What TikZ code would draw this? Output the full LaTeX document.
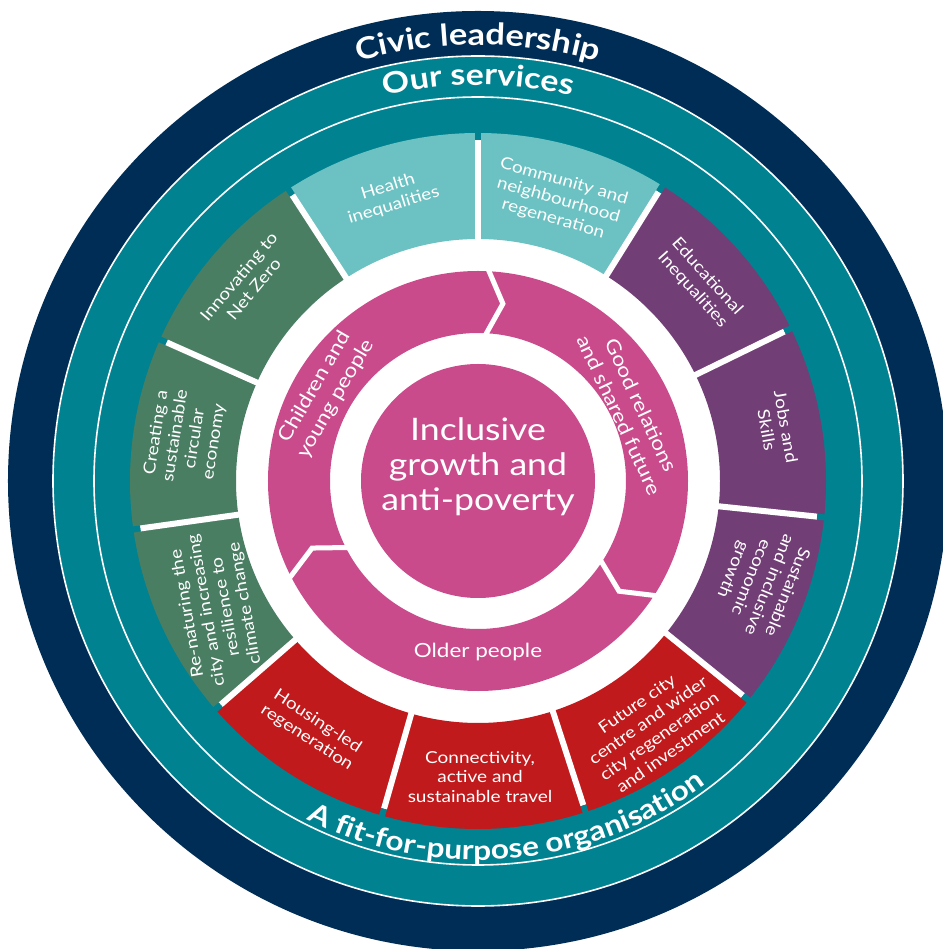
\documentclass[tikz,border=0pt]{standalone}
\usepackage{fontspec}
\setmainfont{Lato}[FakeStretch=1.15]
\usetikzlibrary{decorations.text}
\definecolor{navyc}{RGB}{0,45,86}
\definecolor{tealc}{RGB}{0,130,145}
\definecolor{lighttealc}{RGB}{108,194,194}
\definecolor{purplec}{RGB}{114,62,118}
\definecolor{redc}{RGB}{192,26,28}
\definecolor{greenc}{RGB}{74,126,99}
\definecolor{pinkc}{RGB}{202,75,140}

\begin{document}
\begin{tikzpicture}[x=1pt,y=1pt,
  seg/.style={text=white,align=center,inner sep=0.75pt,font=\fontsize{16.5}{19.5}\selectfont},
  ringlabel/.style={text=white,align=center,inner sep=0.75pt,font=\fontsize{19.5}{24}\selectfont},
  ringtext/.style={decorate,decoration={text along path,text align=center,text color=white}}]
%set diagram: centre of the wheel at (0,0)
\useasboundingbox (-478,-468) rectangle (464,481);
\fill[white] (-478,-468) rectangle (464,481);

%Shape: Circle [civic leadership]
\fill[navyc] (0,0) circle[radius=470];
%Shape: Circle [our services]
\fill[tealc] (0,0) circle[radius=425];
\draw[white,line width=1.6] (0,0) circle[radius=425];
\draw[white,line width=1.6] (0,0) circle[radius=384];
\fill[white] (0,0) circle[radius=341];

%Shape: Arc [health inequalities]
\fill[lighttealc] (90:242) arc[start angle=90,end angle=123,radius=242] -- (123:348) arc[start angle=123,end angle=90,radius=348] -- cycle;
%Shape: Arc [innovating to net zero]
\fill[greenc] (123:242) arc[start angle=123,end angle=156,radius=242] -- (156:348) arc[start angle=156,end angle=123,radius=348] -- cycle;
%Shape: Arc [circular economy]
\fill[greenc] (156:242) arc[start angle=156,end angle=188,radius=242] -- (188:348) arc[start angle=188,end angle=156,radius=348] -- cycle;
%Shape: Arc [re-naturing]
\fill[greenc] (188:242) arc[start angle=188,end angle=221,radius=242] -- (221:348) arc[start angle=221,end angle=188,radius=348] -- cycle;
%Shape: Arc [housing-led regeneration]
\fill[redc] (221:242) arc[start angle=221,end angle=254,radius=242] -- (254:348) arc[start angle=254,end angle=221,radius=348] -- cycle;
%Shape: Arc [connectivity]
\fill[redc] (254:242) arc[start angle=254,end angle=288,radius=242] -- (288:348) arc[start angle=288,end angle=254,radius=348] -- cycle;
%Shape: Arc [future city centre]
\fill[redc] (288:242) arc[start angle=288,end angle=321,radius=242] -- (321:348) arc[start angle=321,end angle=288,radius=348] -- cycle;
%Shape: Arc [sustainable growth]
\fill[purplec] (321:242) arc[start angle=321,end angle=354,radius=242] -- (354:348) arc[start angle=354,end angle=321,radius=348] -- cycle;
%Shape: Arc [jobs and skills]
\fill[purplec] (354:242) arc[start angle=354,end angle=386,radius=242] -- (386:348) arc[start angle=386,end angle=354,radius=348] -- cycle;
%Shape: Arc [educational inequalities]
\fill[purplec] (386:242) arc[start angle=386,end angle=418,radius=242] -- (418:348) arc[start angle=418,end angle=386,radius=348] -- cycle;
%Shape: Arc [community regeneration]
\fill[lighttealc] (418:242) arc[start angle=418,end angle=450,radius=242] -- (450:348) arc[start angle=450,end angle=418,radius=348] -- cycle;

%Straight Lines [gaps between the segments]
\draw[white,line width=6] (90:236) -- (90:341);   \draw[tealc,line width=6] (90:341) -- (90:349);
\draw[white,line width=6] (123:236) -- (123:341); \draw[tealc,line width=6] (123:341) -- (123:349);
\draw[white,line width=6] (156:236) -- (156:341); \draw[tealc,line width=6] (156:341) -- (156:349);
\draw[white,line width=6] (188:236) -- (188:341); \draw[tealc,line width=6] (188:341) -- (188:349);
\draw[white,line width=6] (221:236) -- (221:341); \draw[tealc,line width=6] (221:341) -- (221:349);
\draw[white,line width=6] (254:236) -- (254:341); \draw[tealc,line width=6] (254:341) -- (254:349);
\draw[white,line width=6] (288:236) -- (288:341); \draw[tealc,line width=6] (288:341) -- (288:349);
\draw[white,line width=6] (321:236) -- (321:341); \draw[tealc,line width=6] (321:341) -- (321:349);
\draw[white,line width=6] (354:236) -- (354:341); \draw[tealc,line width=6] (354:341) -- (354:349);
\draw[white,line width=6] (26:236) -- (26:341);   \draw[tealc,line width=6] (26:341) -- (26:349);
\draw[white,line width=6] (58:236) -- (58:341);   \draw[tealc,line width=6] (58:341) -- (58:349);

%Shape: Circle [pink ring of arrows]
\draw[pinkc,line width=62] (0,0) circle[radius=179];
%Straight Lines [arrow heads]
\draw[white,line width=5,miter limit=20] (87.5:214) -- (82:179) -- (87.5:144);
\draw[white,line width=5,miter limit=20] (-32.5:214) -- (-38:179) -- (-32.5:144);
\draw[white,line width=5,miter limit=20] (207.5:214) -- (202:179) -- (207.5:144);
%Shape: Circle [centre]
\fill[pinkc] (0,0) circle[radius=117];

% Text Path
\path[ringtext,decoration={text={|\fontsize{30}{30}\selectfont\bfseries|Civic leadership}}] (135:436) arc[start angle=135,end angle=45,radius=436];
% Text Path
\path[ringtext,decoration={text={|\fontsize{29.5}{29.5}\selectfont\bfseries|Our services}}] (135:396) arc[start angle=135,end angle=45,radius=396];
% Text Path
\path[ringtext,decoration={text={|\fontsize{27.5}{27.5}\selectfont\bfseries|A fit-for-purpose organisation}}] (215:379) arc[start angle=215,end angle=335,radius=379];

% Text Node
\node[seg,rotate=17] (health) at (107:298) {Health\\inequalities};
% Text Node
\node[seg,rotate=-16] (community) at (74:292) {Community and\\neighbourhood\\regeneration};
% Text Node
\node[seg,rotate=-48] (education) at (41.7:297) {Educational\\Inequalities};
% Text Node
\node[seg,rotate=-80] (jobs) at (10:303) {Jobs and\\Skills};
% Text Node
\node[seg,rotate=-112] (sustainable) at (340.5:299) {Sustainable\\and inclusive\\economic\\growth};
% Text Node
\node[seg,rotate=35] (future) at (305.4:303) {Future city\\centre and wider\\city regeneration\\and investment};
% Text Node
\node[seg,rotate=0] (connectivity) at (270.4:296) {Connectivity,\\active and\\sustainable travel};
% Text Node
\node[seg,rotate=-33] (housing) at (236.3:299) {Housing-led\\regeneration};
% Text Node
\node[seg,rotate=100] (renaturing) at (206:291) {Re-naturing the\\city and increasing\\resilience to\\climate change};
% Text Node
\node[seg,rotate=81] (circular) at (171.5:296) {Creating a\\sustainable\\circular\\economy};
% Text Node
\node[seg,rotate=50] (netzero) at (139.5:305) {Innovating to\\Net Zero};

% Text Node
\node[ringlabel,rotate=60] (children) at (150:176) {Children and\\young people};
% Text Node
\node[ringlabel,rotate=-65] (relations) at (25:168) {Good relations\\and shared future};
% Text Node
\node[ringlabel] (older) at (270:171) {Older people};
% Text Node
\node[text=white,align=center,inner sep=0.75pt,font=\fontsize{31}{35}\selectfont] (core) at (0,14) {Inclusive\\growth and\\anti-poverty};

\end{tikzpicture}
\end{document}
